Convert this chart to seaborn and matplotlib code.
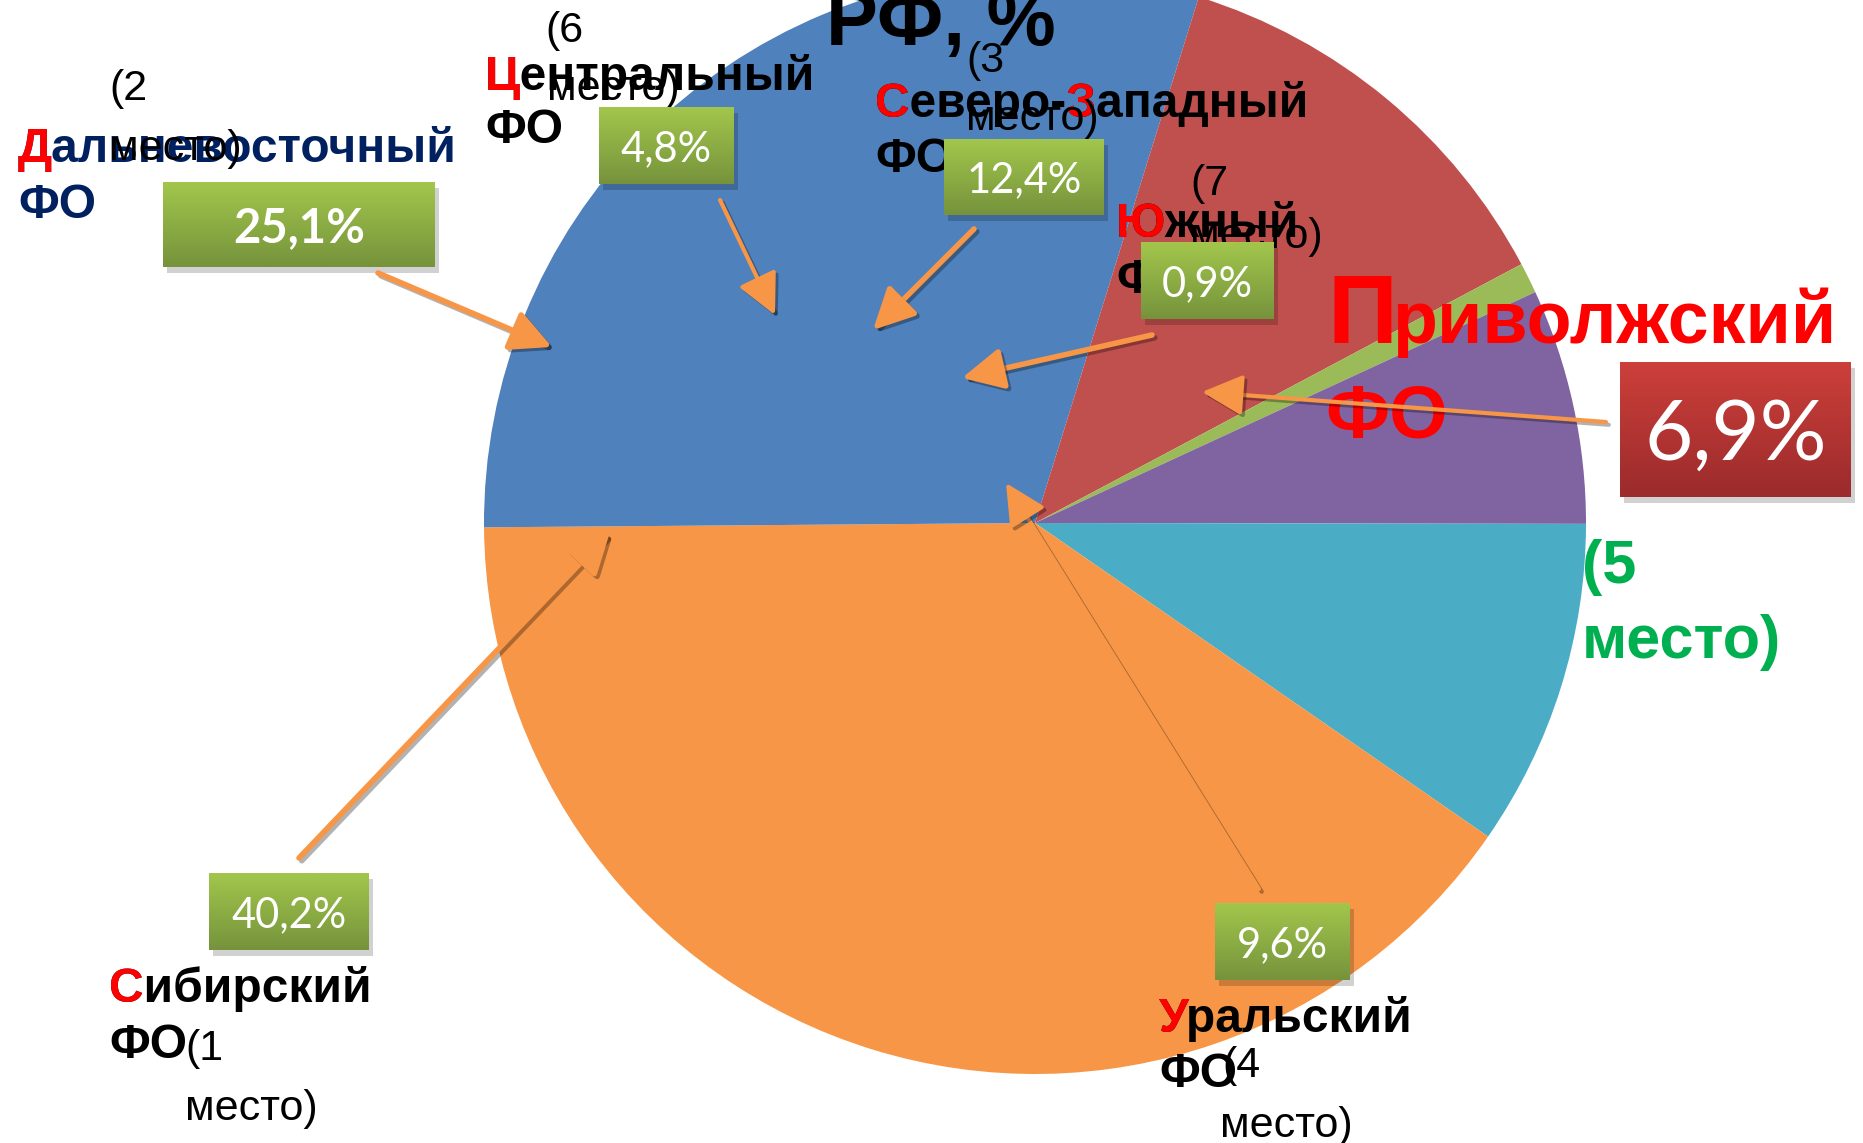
import matplotlib.pyplot as plt
import seaborn as sns
import numpy as np
from matplotlib.patches import Rectangle
from matplotlib.colors import to_rgb
import matplotlib.patheffects as pe

# Доли федеральных округов, % (по часовой стрелке от 12 часов, как в Excel)
regions = ['Центральный', 'Северо-Западный', 'Южный', 'Приволжский',
           'Уральский', 'Сибирский', 'Дальневосточный']
shares = [4.8, 12.4, 0.9, 6.9, 9.6, 40.2, 25.1]
places = [6, 3, 7, 5, 4, 1, 2]
share_labels = ['4,8%', '12,4%', '0,9%', '6,9%', '9,6%', '40,2%', '25,1%']
slice_colors = ['#4F81BD', '#C0504D', '#9BBB59', '#8064A2', '#4BACC6', '#F79646', '#4F81BD']

W, H = 1863, 1143
RED = '#FF0000'
ORANGE = '#F79646'
NAME_FONT = ['Liberation Sans', 'DejaVu Sans']
BOX_FONT = ['Lato', 'DejaVu Sans']

sns.set_theme(style='white')
plt.rcParams['font.family'] = NAME_FONT
plt.rcParams['text.color'] = 'black'

# раскладка подписей (в пикселях картинки, y вниз)
layout = {
    'Центральный': dict(name=(485, 90), fo=(485, 143), color='black', red=[0],
                        place=((545, 42), (547, 100)), box=(599, 107, 734, 184),
                        arrow=((720, 200), (775, 315)), lw=3),
    'Северо-Западный': dict(name=(875, 117), fo=(875, 172), color='black', red=[0, 7],
                            place=((966, 72), (966, 130)), box=(944, 139, 1104, 215),
                            arrow=((974, 229), (873, 330))),
    'Южный': dict(name=(1116, 237), fo=(1116, 293), color='black', red=[0],
                  place=((1190, 195), (1190, 248)), box=(1141, 242, 1274, 319),
                  arrow=((1152, 335), (962, 378))),
    'Уральский': dict(name=(1159, 1032), fo=(1159, 1087), color='black', red=[0],
                      place=((1222, 1077), (1220, 1137)), box=(1215, 903, 1350, 980),
                      arrow=((1259, 889), (1006, 483)), lw=3),
    'Сибирский': dict(name=(109, 1002), fo=(109, 1058), color='black', red=[0],
                      place=((185, 1060), (185, 1120)), box=(209, 873, 369, 950),
                      arrow=((299, 858), (610, 532))),
    'Дальневосточный': dict(name=(18, 162), fo=(18, 218), color='#002060', red=[0],
                            place=((109, 100), (109, 160)), box=(163, 182, 435, 267),
                            arrow=((378, 273), (552, 347)), bold=True),
}

fig = plt.figure(figsize=(W / 100, H / 100), dpi=100)
ax = fig.add_axes([0, 0, 1, 1])

# круговая диаграмма (ось y перевёрнута, поэтому startangle=-90)
ax.pie(shares, colors=slice_colors, startangle=-90, counterclock=True,
       center=(1035, 523), radius=551, wedgeprops=dict(linewidth=0))


def name_text(x, y, word, color, red_idx, size=34.5):
    ax.text(x, y, word, color=color, fontsize=size, fontweight='bold',
            ha='left', va='baseline', zorder=5)
    for i in red_idx:
        if i == 0:
            ax.text(x, y, word[0], color=RED, fontsize=size, fontweight='bold',
                    ha='left', va='baseline', zorder=5.1)
        else:
            pre = ax.text(x, y, word[:i], alpha=0, fontsize=size, fontweight='bold',
                          ha='left', va='baseline', zorder=5)
            ax.annotate(word[i], xy=(1, 0), xycoords=pre, color=RED, fontsize=size,
                        fontweight='bold', ha='left', va='bottom', zorder=5.1)


def box(x0, y0, x1, y1, c_top, c_bot, label, size, bold=False):
    ax.add_patch(Rectangle((x0 + 4, y0 + 6), x1 - x0, y1 - y0, color='black',
                           alpha=0.18, lw=0, zorder=6))
    g = np.linspace(0, 1, 64)[:, None, None]
    img = (1 - g) * np.array(to_rgb(c_top)) + g * np.array(to_rgb(c_bot))
    ax.imshow(img, extent=(x0, x1, y1, y0), origin='upper', aspect='auto',
              interpolation='bilinear', zorder=7)
    ax.text((x0 + x1) / 2, (y0 + y1) / 2, label, color='white', fontsize=size,
            fontweight='bold' if bold else 'normal', family=BOX_FONT,
            ha='center', va='center_baseline', zorder=8)


def arrow(start, end, lw=4):
    ax.annotate('', xy=end, xytext=start, zorder=9,
                arrowprops=dict(arrowstyle='-|>,head_length=1.0,head_width=0.5',
                                color=ORANGE, lw=lw, mutation_scale=25,
                                shrinkA=0, shrinkB=0,
                                path_effects=[pe.SimpleLineShadow(offset=(2, -2),
                                                                  shadow_color='black',
                                                                  alpha=0.3),
                                              pe.Normal()]))


for reg, share, place in zip(regions, shares, places):
    if reg not in layout:
        continue
    lay = layout[reg]
    name_text(*lay['name'], reg, lay['color'], lay['red'])
    ax.text(*lay['fo'], 'ФО', color=lay['color'], fontsize=34.5, fontweight='bold',
            ha='left', va='baseline', zorder=5)
    (px1, py1), (px2, py2) = lay['place']
    ax.text(px1, py1, f'({place}', fontsize=31, ha='left', va='baseline', zorder=5.5)
    ax.text(px2, py2, 'место)', fontsize=31, ha='left', va='baseline', zorder=5.5)
    lbl = share_labels[regions.index(reg)]
    bold = lay.get('bold', False)
    box(*lay['box'], '#A2C64C', '#76933C', lbl, 34 if bold else 30, bold)
    arrow(*lay['arrow'], lw=lay.get('lw', 4))

# Приволжский ФО — выделен отдельно
i_pfo = regions.index('Приволжский')
ax.text(1327, 343, regions[i_pfo][0], color=RED, fontsize=70, fontweight='bold',
        ha='left', va='baseline', zorder=5)
ax.text(1392, 343, regions[i_pfo][1:], color=RED, fontsize=53, fontweight='bold',
        ha='left', va='baseline', zorder=5)
ax.text(1325, 437, 'ФО', color=RED, fontsize=54, fontweight='bold',
        ha='left', va='baseline', zorder=5)
ax.text(1582, 583, f'({places[i_pfo]}', color='#00B050', fontsize=44, fontweight='bold',
        ha='left', va='baseline', zorder=5)
ax.text(1582, 658, 'место)', color='#00B050', fontsize=44, fontweight='bold',
        ha='left', va='baseline', zorder=5)
box(1620, 362, 1851, 497, '#CC3F3A', '#9B2B2C', share_labels[i_pfo], 60)
arrow((1606, 422), (1202, 392), lw=3)

# заголовок (обрезан сверху)
ax.text(826, 45, 'РФ, %', fontsize=56, fontweight='bold', ha='left', va='baseline', zorder=5)

ax.set_xlim(0, W)
ax.set_ylim(H, 0)
ax.set_aspect('auto')
ax.axis('off')

fig.savefig('out.png', dpi=100, facecolor='white')
